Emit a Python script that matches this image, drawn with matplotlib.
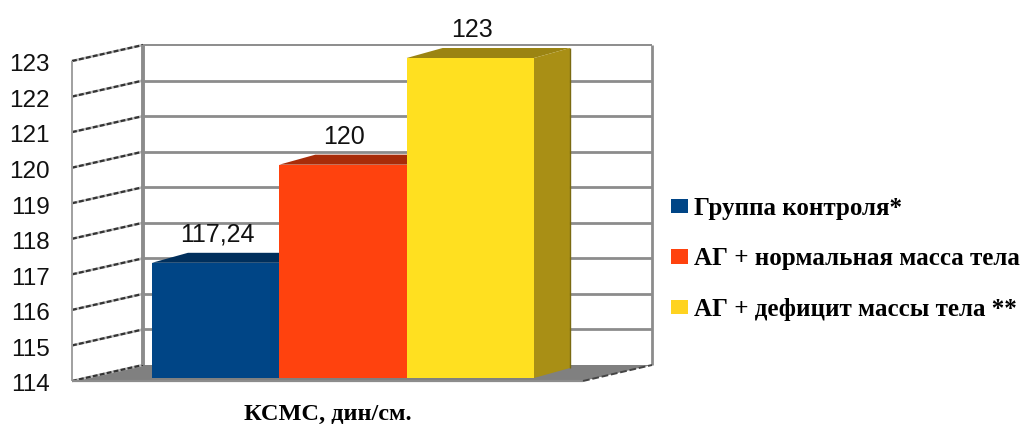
import matplotlib
matplotlib.use("Agg")
import matplotlib.pyplot as plt
from matplotlib.patches import Polygon
from matplotlib.transforms import ScaledTranslation

# group means, dyn/cm
groups = ["Группа контроля*", "АГ + нормальная масса тела", "АГ + дефицит массы тела **"]
values = [117.24, 120, 123]
value_labels = ["117,24", "120", "123"]
ticks = [114, 115, 116, 117, 118, 119, 120, 121, 122, 123]
xlabel = "КСМС, дин/см."

front_colors = ["#004586", "#FF420E", "#FFE020"]
top_colors = ["#002F5C", "#A82C09", "#9B8412"]
side_color = "#A98F15"
grid_color = "#8C8C8C"

W, H = 1023, 424
# axes box in pixels: the plane of the bar faces
left, right, top, bottom = 72, 652, 58, 378
px_x = 127.33  # pixels per category
px_y = (bottom - top) / 9  # pixels per tick step
bar_left = 152

fig = plt.figure(figsize=(W / 100, H / 100), dpi=100)
ax = fig.add_axes([left / W, 1 - bottom / H, (right - left) / W, (bottom - top) / H])
x0 = -0.5 - (bar_left - left) / px_x
ax.set_xlim(x0, x0 + (right - left) / px_x)
ax.set_ylim(ticks[0], ticks[-1])


def pt(x, v, dx=0, dy=0):
    # data point shifted by a depth offset given in pixels (dy up)
    return (x + dx / px_x, v + dy / px_y)


def draw_line(p, q, **kw):
    ax.plot([p[0], q[0]], [p[1], q[1]], clip_on=False, solid_capstyle="butt", **kw)


xl, xr = ax.get_xlim()
back_left = xl + (143 - left) / px_x
back_right = xr
front_right = xl + (583 - left) / px_x
back_dy = 13
front_dy = -3

# floor
ax.add_patch(Polygon([pt(xl, ticks[0], 0, front_dy), pt(back_left, ticks[0], 0, back_dy),
                      pt(back_right, ticks[0], 0, back_dy), pt(front_right, ticks[0], 0, front_dy)],
                     closed=True, fc="#808080", ec="none", clip_on=False, zorder=1))

# back wall gridlines and side wall lines
for t in ticks:
    lw = 2.0 if t != ticks[-1] else 1.4
    if t != ticks[0]:
        draw_line(pt(back_left, t, 0, back_dy), pt(back_right, t, 0, back_dy),
                  color=grid_color, lw=lw, zorder=1.5)
    p = pt(xl, t, 0, front_dy)
    q = pt(back_left, t, 0, back_dy)
    draw_line(p, q, color="#BBBBBB", lw=1.8, zorder=1.5)
    ax.plot([p[0], q[0]], [p[1], q[1]], color="#333333", lw=1.6,
            linestyle=(0, (2.2, 1.0)), clip_on=False, zorder=1.6)

draw_line(pt(back_left, ticks[0], 0, back_dy), pt(back_left, ticks[-1], 0, back_dy),
          color=grid_color, lw=2.8, zorder=1.7)
draw_line(pt(back_right, ticks[0], 0, back_dy), pt(back_right, ticks[-1], 0, back_dy),
          color=grid_color, lw=2.0, zorder=1.7)
draw_line(pt(xl, ticks[0], 0, front_dy), pt(xl, ticks[-1], 0, front_dy),
          color="#A0A0A0", lw=1.4, zorder=1.7)
draw_line(pt(xl, ticks[0], 0, front_dy), pt(front_right, ticks[0], 0, front_dy),
          color="#8C8C8C", lw=1.6, zorder=1.7)
p = pt(front_right, ticks[0], 0, front_dy)
q = pt(back_right, ticks[0], 0, back_dy)
ax.plot([p[0], q[0]], [p[1], q[1]], color="#444444", lw=1.4,
        linestyle=(0, (3.5, 1.4)), clip_on=False, zorder=1.7)

# bars, with top and side faces for the 3D look
depth_x, depth_y = 36, 10
bars = ax.bar(range(len(values)), [v - ticks[0] for v in values], width=1, bottom=ticks[0],
              color=front_colors, zorder=3, label="_bars")
for i, v in enumerate(values):
    a, b = i - 0.5, i + 0.5
    ax.add_patch(Polygon([pt(a, v), pt(a, v, depth_x, depth_y), pt(b, v, depth_x, depth_y), pt(b, v)],
                         closed=True, fc=top_colors[i], ec="none", zorder=2, clip_on=False))
    ax.text(i + 0.01, v + 0.45, value_labels[i], ha="center", va="bottom",
            fontsize=18, family="Liberation Sans", color="#111111", zorder=5)

a = len(values) - 0.5
v = values[-1]
ax.add_patch(Polygon([pt(a, ticks[0]), pt(a, ticks[0], depth_x, depth_y),
                      pt(a, v, depth_x, depth_y), pt(a, v)],
                     closed=True, fc=side_color, ec="none", zorder=2, clip_on=False))
# darker outer edge of the side face
draw_line(pt(a, ticks[0], depth_x, depth_y), pt(a, v, depth_x, depth_y), color="#7A6A10", lw=1.0, zorder=2.5)

# value axis
ax.set_yticks(ticks)
ax.set_xticks([])
ax.tick_params(axis="y", length=0, pad=16)
shift = ScaledTranslation(0, -3.5 / 72, fig.dpi_scale_trans)
for lab in ax.get_yticklabels():
    lab.set_fontsize(17.5)
    lab.set_fontfamily("Liberation Sans")
    lab.set_color("#111111")
    lab.set_transform(lab.get_transform() + shift)
for s in ax.spines.values():
    s.set_visible(False)
ax.patch.set_alpha(0)

ax.text((327.5 - left) / (right - left), -41.5 / (bottom - top), xlabel, transform=ax.transAxes,
        ha="center", va="baseline", fontsize=17.5, fontweight="bold", family="Liberation Serif")

# legend
legend_colors = ["#004586", "#FF420E", "#FFD320"]
handles = [plt.Rectangle((0, 0), 1, 1, fc=c, ec="none") for c in legend_colors]
fig.legend(handles, groups, loc="center left", bbox_to_anchor=(648 / W, 1 - 259 / H), frameon=False,
           prop={"family": "Liberation Serif", "weight": "bold", "size": 18},
           handlelength=0.7, handleheight=0.52, handletextpad=0.24, labelspacing=1.1)

fig.savefig("out.png", dpi=100)
